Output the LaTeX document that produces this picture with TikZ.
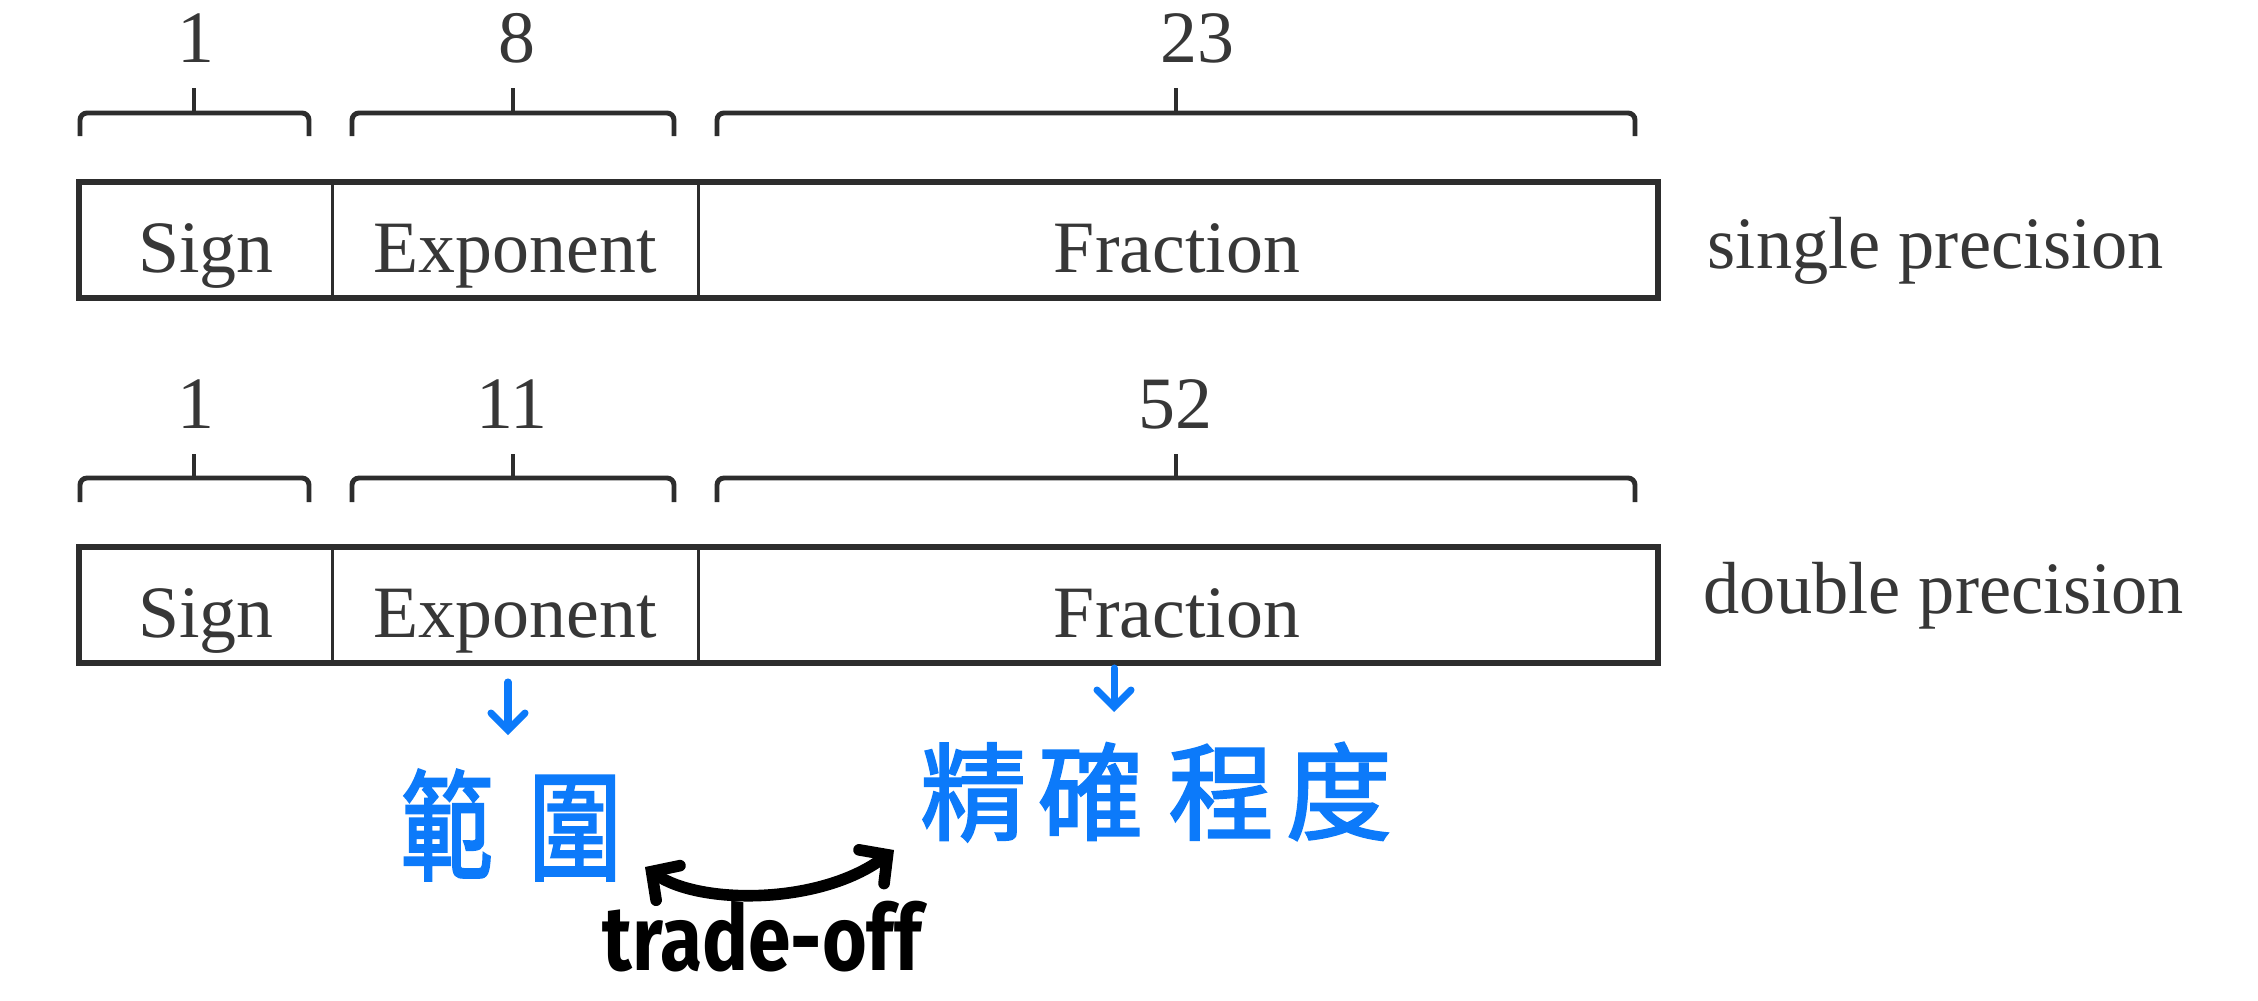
\documentclass[tikz,border=0pt]{standalone}
\usepackage{fontspec}
\usepackage{graphicx}
\setmainfont{Liberation Serif}
\newfontfamily\cjkfont[FakeBold=2.2]{Noto Sans CJK TC}
\newfontfamily\handfont{Fira Sans}
\usetikzlibrary{arrows.meta}
\definecolor{linegray}{RGB}{45,45,45}
\definecolor{txtgray}{RGB}{55,55,55}
\definecolor{handblue}{RGB}{12,122,250}
\begin{document}
\begin{tikzpicture}[x=0.01cm, y=-0.01cm,
  lbl/.style={font=\fontsize{21}{25}\selectfont, text=txtgray, inner sep=0},
  cell/.style={inner sep=0, minimum height=1.14cm},
  outer/.style={draw=linegray, line width=1.6pt},
  divider/.style={draw=linegray, line width=0.9pt},
  bracket/.style={draw=linegray, line width=1.4pt, rounded corners=0.07cm},
  bluearrow/.style={draw=handblue, line width=2pt, line cap=round,
    -{Straight Barb[length=0.17cm, width=0.34cm, line cap=round]}},
  cjk/.style={font=\cjkfont, text=handblue, inner sep=0},
  tradearrow/.style={draw=black, line width=3.3pt, line cap=round,
    {Straight Barb[length=0.2cm, width=0.42cm, line cap=round]}-{Straight Barb[length=0.2cm, width=0.42cm, line cap=round]}},
  hand/.style={font=\handfont\bfseries\fontsize{26}{30}\selectfont, text=black, inner sep=0}
]
\useasboundingbox[fill=white] (0,0) rectangle (2258,1000);

% ---------- single precision ----------
\node[cell, minimum width=2.52cm] (s1) at (206,240) {};
\node[cell, minimum width=3.66cm] (e1) at (515,240) {};
\node[cell, minimum width=9.59cm] (f1) at (1177.5,240) {};
\draw[outer] (s1.north west) rectangle (f1.south east);
\draw[divider] (s1.north east) -- (s1.south east);
\draw[divider] (e1.north east) -- (e1.south east);
\node[lbl, anchor=base] (ts1) at (206,272) {Sign};
\node[lbl, anchor=base] (te1) at (515,272) {Exponent};
\node[lbl, anchor=base] (tf1) at (1177,272) {Fraction};
\node[lbl, anchor=base west] (sp) at (1707,268) {\scalebox{0.98}[1]{single precision}};

\node[lbl, anchor=base] (n11) at (196,62) {1};
\node[lbl, anchor=base] (n12) at (517,62) {8};
\node[lbl, anchor=base] (n13) at (1197,62) {23};

\draw[bracket] (80,136) |- (194,113) -| (309,136);
\draw[bracket] (194,113) -- (194,88);
\draw[bracket] (352,136) |- (513,113) -| (674,136);
\draw[bracket] (513,113) -- (513,88);
\draw[bracket] (717,136) |- (1176,113) -| (1635,136);
\draw[bracket] (1176,113) -- (1176,88);

% ---------- double precision ----------
\node[cell, minimum width=2.52cm] (s2) at (206,605) {};
\node[cell, minimum width=3.66cm] (e2) at (515,605) {};
\node[cell, minimum width=9.59cm] (f2) at (1177.5,605) {};
\draw[outer] (s2.north west) rectangle (f2.south east);
\draw[divider] (s2.north east) -- (s2.south east);
\draw[divider] (e2.north east) -- (e2.south east);
\node[lbl, anchor=base] (ts2) at (206,637) {Sign};
\node[lbl, anchor=base] (te2) at (515,637) {Exponent};
\node[lbl, anchor=base] (tf2) at (1177,637) {Fraction};
\node[lbl, anchor=base west] (dp) at (1703,613) {\scalebox{0.98}[1]{double precision}};

\node[lbl, anchor=base] (n21) at (196,428) {1};
\node[lbl, anchor=base] (n22) at (512,428) {11};
\node[lbl, anchor=base] (n23) at (1175,428) {52};

\draw[bracket] (80,502) |- (194,478) -| (309,502);
\draw[bracket] (194,478) -- (194,454);
\draw[bracket] (352,502) |- (513,478) -| (674,502);
\draw[bracket] (513,478) -- (513,454);
\draw[bracket] (717,502) |- (1176,478) -| (1635,502);
\draw[bracket] (1176,478) -- (1176,454);

% ---------- handwritten notes ----------
\coordinate (ra1) at (508,682);
\coordinate (ra2) at (508,735);
\draw[bluearrow] (ra1) -- (ra2);
\coordinate (pa1) at (1114,668);
\coordinate (pa2) at (1114,712);
\draw[bluearrow] (pa1) -- (pa2);

\node[cjk, font=\cjkfont\fontsize{34}{38}\selectfont] (range) at (511,825)
  {\scalebox{0.78}[1]{範\hspace{0.45cm}圍}};
\node[cjk, font=\cjkfont\fontsize{30}{34}\selectfont] (prec) at (1156,792)
  {精\hspace{0.12cm}確\hspace{0.25cm}程\hspace{0.12cm}度};

\coordinate (tl) at (645,867);
\coordinate (tr) at (894,850);
\draw[tradearrow] (tl) .. controls (700,905) and (820,905) .. (tr);
\node[hand, anchor=base] (tradeoff) at (762,970) {\scalebox{0.84}[1]{trade-off}};
\end{tikzpicture}
\end{document}
